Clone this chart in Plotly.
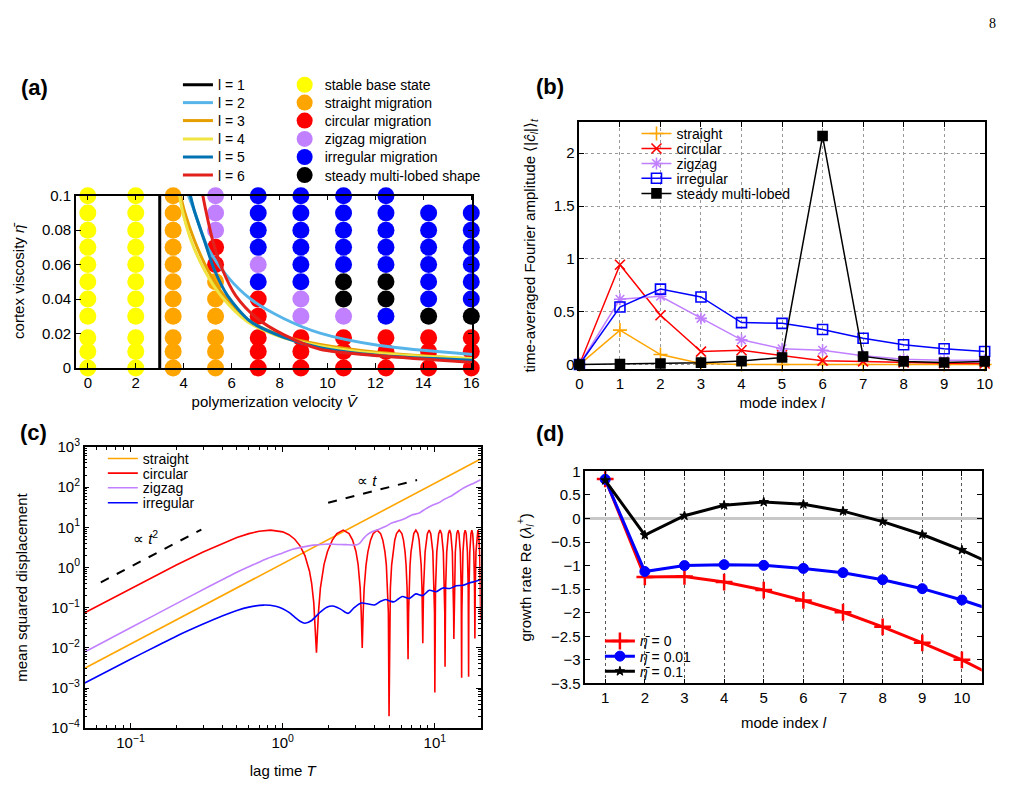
import plotly.graph_objects as go

FONT = "Liberation Sans"

# ---------------- panel (a): phase diagram ----------------
V_cols = [0, 2, 3.56, 5.33, 7.11, 8.89, 10.67, 12.44, 14.22, 16]
eta_rows = [0, 0.0095, 0.0175, 0.03, 0.04, 0.05, 0.06, 0.07, 0.08, 0.09, 0.1]
# state per column, rows from bottom (eta=0) to top (eta=0.1); '-' = no point
state_cols = ["YYYYYYYYYYY", "YYYYYYYYYYY", "OOOOOOOOOOO", "OOOOOORRPPP",
              "RRRRRBPBBBB", "RRRPPBBBBBB", "RRRPKKBBBBB", "RRRBKKBBBBB",
              "RRRKBBBBBB-", "RRRKBBBBBB-"]
state_codes = ["Y", "O", "R", "P", "B", "K"]
state_names = ["stable base state", "straight migration", "circular migration",
               "zigzag migration", "irregular migration", "steady multi-lobed shape"]
state_colors = ["#FFFF00", "#FFA500", "#FF0000", "#C080FF", "#0000FF", "#000000"]

# linear stability boundaries for modes l = 1..6
l1_V = [3.0, 3.0]
l1_eta = [0.0, 0.1]
l2_V = [4.2, 4.45, 5.0, 5.83, 6.79, 8.17, 9.69, 12.17, 16.05]
l2_eta = [0.1, 0.091, 0.070, 0.053, 0.040, 0.0287, 0.0202, 0.013, 0.0078]
l3_V = [3.87, 4.03, 4.45, 5.0, 5.69, 6.79, 8.17, 9.69, 12.17, 16.05]
l3_eta = [0.1, 0.091, 0.074, 0.057, 0.042, 0.0269, 0.0184, 0.0136, 0.0089, 0.0051]
l4_V = [3.83, 3.95, 4.31, 4.86, 5.55, 6.65, 8.17, 9.69, 12.17, 16.05]
l4_eta = [0.1, 0.091, 0.074, 0.057, 0.042, 0.027, 0.0175, 0.0128, 0.0083, 0.0054]
l5_V = [4.28, 4.45, 4.86, 5.28, 5.83, 6.79, 8.17, 9.69, 12.17, 16.05]
l5_eta = [0.1, 0.091, 0.074, 0.057, 0.042, 0.0269, 0.0178, 0.0117, 0.0072, 0.0045]
l6_V = [4.8, 4.93, 5.21, 5.62, 6.17, 7.07, 8.17, 9.69, 12.17, 16.05]
l6_eta = [0.1, 0.091, 0.074, 0.057, 0.042, 0.0287, 0.0193, 0.0108, 0.007, 0.0032]
mode_names = ["l = 1", "l = 2", "l = 3", "l = 4", "l = 5", "l = 6"]
mode_colors = ["#000000", "#56B4E9", "#E69F00", "#F0E442", "#0072B2", "#E3211C"]

# ---------------- panel (b): Fourier amplitudes ----------------
b_l = [0, 1, 2, 3, 4, 5, 6, 7, 8, 9, 10]
b_straight = [0, 0.326, 0.095, 0.01, 0, 0, 0, 0, 0, 0, 0]
b_circular = [0, 0.945, 0.467, 0.123, 0.135, 0.089, 0.037, 0.03, 0.02, 0.012, 0.01]
b_zigzag = [0, 0.618, 0.646, 0.437, 0.234, 0.15, 0.135, 0.083, 0.05, 0.04, 0.04]
b_irregular = [0, 0.545, 0.714, 0.64, 0.397, 0.39, 0.332, 0.249, 0.187, 0.15, 0.123]
b_lobed = [0, 0.005, 0.01, 0.018, 0.033, 0.067, 2.163, 0.077, 0.03, 0.02, 0.03]

# ---------------- panel (c): mean squared displacement ----------------
st_T = [0.05, 20.0]
st_v = [3.1e-3, 500.0]

circ_T = [0.05, 0.1, 0.15, 0.2, 0.3, 0.4, 0.5, 0.6, 0.7, 0.833, 1.0, 1.1, 1.2, 1.3, 1.4, 1.5, 1.55, 1.6, 1.63, 1.667,
          1.72, 1.77, 1.87, 1.97, 2.12, 2.27, 2.5, 2.73, 2.88, 3.03, 3.13, 3.23, 3.28, 3.333,
          3.38, 3.43, 3.53, 3.63, 3.78, 3.93, 4.17, 4.4, 4.55, 4.7, 4.8, 4.9, 4.95, 5.0,
          5.05, 5.1, 5.2, 5.3, 5.45, 5.6, 5.83, 6.07, 6.22, 6.37, 6.47, 6.57, 6.62, 6.667,
          6.72, 6.77, 6.87, 6.97, 7.12, 7.27, 7.5, 7.73, 7.88, 8.03, 8.13, 8.23, 8.28, 8.333,
          8.38, 8.43, 8.63, 8.93, 9.17, 9.4, 9.7, 9.9, 9.95, 10.0,
          10.05, 10.1, 10.3, 10.6, 10.83, 11.07, 11.37, 11.57, 11.62, 11.667,
          11.72, 11.77, 11.97, 12.27, 12.5, 12.73, 13.03, 13.23, 13.28, 13.333,
          13.38, 13.43, 13.63, 13.93, 14.17, 14.4, 14.7, 14.9, 14.95, 15.0,
          15.05, 15.1, 15.3, 15.6, 15.83, 16.07, 16.37, 16.57, 16.62, 16.667,
          16.72, 16.77, 16.97, 17.27, 17.5, 17.73, 18.03, 18.23, 18.28, 18.333,
          18.38, 18.43, 18.63, 18.93, 19.17, 19.4, 19.7, 19.9, 19.95, 20.0]
circ_v = [0.075, 0.30, 0.66, 1.15, 2.44, 3.98, 5.56, 6.96, 7.97, 8.5, 7.69, 6.53, 5.05, 3.46, 1.98, 0.81, 0.40, 0.135, 0.041, 0.0076,
          0.08, 0.31, 1.2, 2.5, 4.8, 7.0, 8.5, 7.0, 4.8, 2.5, 1.2, 0.31, 0.08, 0.010,
          0.075, 0.30, 1.15, 2.44, 4.78, 6.96, 8.5, 6.96, 4.78, 2.44, 1.15, 0.30, 0.075, 0.0002,
          0.075, 0.30, 1.15, 2.44, 4.78, 6.96, 8.5, 6.96, 4.78, 2.44, 1.15, 0.30, 0.075, 0.0052,
          0.075, 0.30, 1.15, 2.44, 4.78, 6.96, 8.5, 6.96, 4.78, 2.44, 1.15, 0.30, 0.075, 0.013,
          0.075, 0.30, 2.44, 6.96, 8.5, 6.96, 2.44, 0.30, 0.075, 0.00077,
          0.075, 0.30, 2.44, 6.96, 8.5, 6.96, 2.44, 0.30, 0.075, 0.0034,
          0.075, 0.30, 2.44, 6.96, 8.5, 6.96, 2.44, 0.30, 0.075, 0.0166,
          0.075, 0.30, 2.44, 6.96, 8.5, 6.96, 2.44, 0.30, 0.075, 0.0018,
          0.075, 0.30, 2.44, 6.96, 8.5, 6.96, 2.44, 0.30, 0.075, 0.0019,
          0.075, 0.30, 2.44, 6.96, 8.5, 6.96, 2.44, 0.30, 0.075, 0.017,
          0.075, 0.30, 2.44, 6.96, 8.5, 6.96, 2.44, 0.30, 0.075, 0.05]

zz_T = [0.05, 0.1, 0.2, 0.33, 0.5, 0.65, 0.8, 1.0, 1.18, 1.4, 1.59, 1.9, 2.14, 2.6, 3.04, 3.2, 3.4, 3.6, 3.9, 4.3,
        4.76, 5.2, 5.8, 6.42, 7.1, 7.84, 8.6, 9.56, 10.5, 11.7, 13.0, 15.0, 16.5, 18.0, 20.0]
zz_v = [7.9e-3, 0.0316, 0.126, 0.34, 0.76, 1.2, 1.7, 2.3, 2.87, 3.3, 3.6, 3.8, 3.8, 3.7, 3.65, 4.0, 5.3, 6.6, 7.9, 9.0,
        10.6, 12.8, 14.5, 16.8, 20.5, 22.3, 28, 35, 40, 51, 62, 89, 108, 125, 152]

irr_T = [0.05, 0.1, 0.15, 0.2, 0.3, 0.4, 0.5, 0.6, 0.75, 0.9, 1.0, 1.1, 1.2, 1.3, 1.4, 1.55, 1.76, 1.95, 2.14, 2.4,
         2.69, 2.95, 3.28, 3.6, 4.0, 4.35, 4.75, 5.1, 5.4, 6.1, 6.8, 7.5, 8.3, 9.2, 10.2, 11.3, 12.5, 13.8, 15.3,
         16.8, 18.4, 20.0]
irr_v = [1.34e-3, 5.2e-3, 0.0113, 0.0195, 0.039, 0.062, 0.085, 0.103, 0.116, 0.108, 0.094, 0.076, 0.058, 0.046,
         0.041, 0.048, 0.077, 0.103, 0.11, 0.092, 0.072, 0.1, 0.13, 0.125, 0.117, 0.14, 0.16, 0.145, 0.14, 0.19,
         0.17, 0.22, 0.2, 0.27, 0.25, 0.31, 0.30, 0.35, 0.36, 0.41, 0.45, 0.5]

guide2_T = [0.0638, 0.292]
guide2_v = [0.426, 8.8]
guide1_T = [1.99, 7.64]
guide1_v = [41, 150]

c_tickvals = [1e-4, 1e-3, 1e-2, 1e-1, 1, 10, 100, 1000]
c_ticktext = ["10<sup>\u22124</sup>", "10<sup>\u22123</sup>", "10<sup>\u22122</sup>", "10<sup>\u22121</sup>",
              "10<sup>0</sup>", "10<sup>1</sup>", "10<sup>2</sup>", "10<sup>3</sup>"]
cx_tickvals = [0.1, 1, 10]
cx_ticktext = ["10<sup>\u22121</sup>", "10<sup>0</sup>", "10<sup>1</sup>"]

# ---------------- panel (d): growth rates ----------------
d_l = [1, 2, 3, 4, 5, 6, 7, 8, 9, 10, 11]
d_eta0 = [0.84, -1.24, -1.23, -1.35, -1.52, -1.74, -1.99, -2.30, -2.64, -3.00, -3.43]
d_eta001 = [0.83, -1.126, -1.0, -0.98, -0.995, -1.06, -1.15, -1.30, -1.49, -1.73, -2.01]
d_eta01 = [0.81, -0.355, 0.058, 0.28, 0.347, 0.30, 0.155, -0.066, -0.34, -0.67, -1.06]

W, H = 1021, 787
fig = go.Figure()
legends = {}


def new_legend(px_x, px_y):
    """one legend per entry, placed at a pixel row"""
    idx = len(legends) + 1
    key = "legend" if idx == 1 else "legend%d" % idx
    legends[key] = dict(x=px_x / W, y=1 - px_y / H, xanchor="left", yanchor="middle",
                        bgcolor="rgba(255,255,255,0)", borderwidth=0,
                        font=dict(family=FONT, size=14, color="black"))
    return key


# ---- (a) dots ----
a_dot_rows = [76, 94.3, 112.7, 131.5, 150, 168.5]
for code, name, col, ry in zip(state_codes, state_names, state_colors, a_dot_rows):
    xs, ys = [], []
    for V, col_str in zip(V_cols, state_cols):
        for eta, s in zip(eta_rows, col_str):
            if s == code:
                xs.append(V)
                ys.append(eta)
    fig.add_trace(go.Scatter(x=xs, y=ys, mode="markers", name=name,
                             legend=new_legend(284, ry),
                             marker=dict(size=17, color=col, line=dict(width=0)),
                             cliponaxis=False, xaxis="x", yaxis="y"))
# ---- (a) curves ----
a_line_rows = [76, 94.3, 112.7, 131.5, 150, 168.5]
for (vx, ey), name, col, ry in zip([(l1_V, l1_eta), (l2_V, l2_eta), (l3_V, l3_eta), (l4_V, l4_eta),
                                     (l5_V, l5_eta), (l6_V, l6_eta)], mode_names, mode_colors, a_line_rows):
    fig.add_trace(go.Scatter(x=vx, y=ey, mode="lines", name=name,
                             legend=new_legend(176, ry),
                             line=dict(color=col, width=3, shape="spline", smoothing=0.8),
                             xaxis="x", yaxis="y"))

# ---- (b) ----
b_series = [("straight", b_straight, "#FFA500", "cross-thin", 10),
            ("circular", b_circular, "#FF0000", "x-thin", 10),
            ("zigzag", b_zigzag, "#C080FF", "asterisk", 10),
            ("irregular", b_irregular, "#0000FF", "square-open", 10),
            ("steady multi-lobed", b_lobed, "#000000", "square", 9)]
b_rows = [126, 141.3, 156.7, 171.8, 187.3]
for (name, vals, col, sym, sz), ry in zip(b_series, b_rows):
    fig.add_trace(go.Scatter(x=b_l, y=vals, mode="lines+markers", name=name,
                             legend=new_legend(640, ry),
                             line=dict(color=col, width=1.5),
                             marker=dict(symbol=sym, size=sz, color=col, line=dict(color=col, width=1.6)),
                             cliponaxis=False, xaxis="x2", yaxis="y2"))

# ---- (c) ----
c_rows = [459, 474, 489, 504.3]
c_series = [("straight", st_T, st_v, "#FFA500", "linear", 0),
            ("circular", circ_T, circ_v, "#FF0000", "linear", 0),
            ("zigzag", zz_T, zz_v, "#C080FF", "spline", 0.6),
            ("irregular", irr_T, irr_v, "#0000FF", "spline", 0.8)]
for (name, tx, ty, col, shp, sm), ry in zip(c_series, c_rows):
    line = dict(color=col, width=1.6, shape=shp)
    if shp == "spline":
        line["smoothing"] = sm
    fig.add_trace(go.Scatter(x=tx, y=ty, mode="lines", name=name,
                             legend=new_legend(100, ry),
                             line=line, xaxis="x3", yaxis="y3"))
fig.add_trace(go.Scatter(x=guide2_T, y=guide2_v, mode="lines", showlegend=False,
                         line=dict(color="black", width=2, dash="dash"), xaxis="x3", yaxis="y3"))
fig.add_trace(go.Scatter(x=guide1_T, y=guide1_v, mode="lines", showlegend=False,
                         line=dict(color="black", width=2, dash="dash"), xaxis="x3", yaxis="y3"))

# ---- (d) ----
d_series = [("<i>\u03b7\u0304</i> = 0", d_eta0, "#FF0000", "cross-thin", 12, 2.5),
            ("<i>\u03b7\u0304</i> = 0.01", d_eta001, "#0000FF", "circle", 10, 1),
            ("<i>\u03b7\u0304</i> = 0.1", d_eta01, "#000000", "star", 7, 1)]
d_rows = [646, 661.5, 677]
for (name, vals, col, sym, sz, mlw), ry in zip(d_series, d_rows):
    fig.add_trace(go.Scatter(x=d_l, y=vals, mode="lines+markers", name=name,
                             legend=new_legend(603, ry),
                             line=dict(color=col, width=3),
                             marker=dict(symbol=sym, size=sz, color=col, line=dict(color=col, width=mlw)),
                             xaxis="x4", yaxis="y4"))

axis_common = dict(showline=True, linecolor="black", linewidth=1.5, mirror="ticks", ticks="inside",
                   ticklen=5, tickcolor="black", tickwidth=1, showgrid=False, zeroline=False,
                   tickfont=dict(family=FONT, size=15, color="black"),
                   title_font=dict(family=FONT, size=15, color="black"))

fig.update_layout(
    width=W, height=H, margin=dict(l=0, r=0, t=0, b=0),
    paper_bgcolor="white", plot_bgcolor="white",
    font=dict(family=FONT, size=14, color="black"),
    xaxis=dict(axis_common, domain=[0.0712, 0.4643], anchor="y", range=[-0.5, 16.05], dtick=2, tick0=0,
               title=dict(text="polymerization velocity <i>V\u0304</i>", standoff=7)),
    yaxis=dict(axis_common, domain=[0.5353, 0.7595], anchor="x", range=[0, 0.1], dtick=0.02,
               title=dict(text="cortex viscosity <i>\u03b7\u0304</i>", standoff=14)),
    xaxis2=dict(axis_common, domain=[0.5703, 0.9719], anchor="y2", range=[0, 10], dtick=1,
                showgrid=True, gridcolor="#999999", griddash="dot", gridwidth=1,
                title=dict(text="mode index <i>l</i>", standoff=6)),
    yaxis2=dict(axis_common, domain=[0.5333, 0.8551], anchor="x2", range=[-0.046, 2.293],
                tickvals=[0, 0.5, 1, 1.5, 2], showgrid=True, gridcolor="#999999", griddash="dot", gridwidth=1,
                title=dict(text="time-averaged Fourier amplitude \u27e8|<i>\u0109<sub>l</sub></i>|\u27e9<sub><i>t</i></sub>",
                           standoff=15)),
    xaxis3=dict(axis_common, domain=[0.0800, 0.4724], anchor="y3", type="log", range=[-1.301, 1.301],
                tickvals=cx_tickvals, ticktext=cx_ticktext,
                minor=dict(ticks="inside", ticklen=3, tickcolor="black", dtick="D1", showgrid=False),
                title=dict(text="lag time <i>T</i>", standoff=16)),
    yaxis3=dict(axis_common, domain=[0.0661, 0.4324], anchor="x3", type="log", range=[-4, 3],
                tickvals=c_tickvals, ticktext=c_ticktext,
                minor=dict(ticks="inside", ticklen=3, tickcolor="black", dtick="D1", showgrid=False),
                title=dict(text="mean squared displacement", standoff=20)),
    xaxis4=dict(axis_common, domain=[0.5762, 0.9690], anchor="y4", range=[0.5, 10.5], dtick=1, tick0=1,
                showgrid=True, gridcolor="#555555", griddash="dot", gridwidth=1,
                title=dict(text="mode index <i>l</i>", standoff=12)),
    yaxis4=dict(axis_common, domain=[0.1245, 0.4006], anchor="x4", range=[-3.5, 1], dtick=0.5, tick0=0,
                zeroline=True, zerolinecolor="#C8C8C8", zerolinewidth=3,
                title=dict(text="growth rate Re (<i>\u03bb<sub>l</sub><sup>+</sup></i>)", standoff=16)),
    **legends,
)

# opaque legend backgrounds (key boxes) in panels (b) and (d): above grid, below data
legend_boxes = [(592, 118, 812, 196), (590, 637, 737, 688)]
for x0, y0, x1, y1 in legend_boxes:
    fig.add_shape(type="rect", xref="paper", yref="paper", x0=x0 / W, x1=x1 / W,
                  y0=1 - y1 / H, y1=1 - y0 / H, fillcolor="white", line=dict(width=0),
                  layer="between")

annos = [
    dict(text="<b>(a)</b>", x=31, y=78, size=22),
    dict(text="<b>(b)</b>", x=552, y=77, size=22),
    dict(text="<b>(c)</b>", x=30, y=432, size=22),
    dict(text="<b>(d)</b>", x=552, y=433, size=22),
    dict(text="\u221d <i>t</i><sup>2</sup>", x=143, y=540, size=15),
    dict(text="\u221d <i>t</i>", x=367, y=481, size=15),
]
for a in annos:
    fig.add_annotation(text=a["text"], x=a["x"] / W, y=1 - a["y"] / H, xref="paper", yref="paper",
                       xanchor="center", yanchor="middle", showarrow=False,
                       font=dict(family=FONT, size=a["size"], color="black"))
fig.add_annotation(text="8", x=1000 / W, y=1 - 13 / H, xref="paper", yref="paper",
                   xanchor="center", yanchor="middle", showarrow=False,
                   font=dict(family="Liberation Serif", size=14, color="black"))

fig.write_html("out.html")
